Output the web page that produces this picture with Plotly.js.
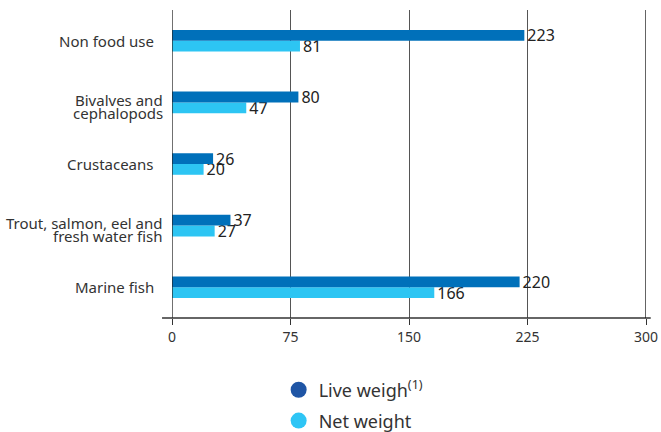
<!DOCTYPE html>
<html>
<head>
<meta charset="utf-8">
<script src="https://cdn.plot.ly/plotly-3.0.1.min.js"></script>
<style>html,body{margin:0;padding:0;background:#fff;}#chart{width:661px;height:432px;}</style>
</head>
<body>
<div id="chart"></div>
<script>
var categories = ["Marine fish", "Trout, salmon, eel and<br>fresh water fish", "Crustaceans", "Bivalves and<br>cephalopods", "Non food use"];
var liveWeight = [220, 37, 26, 80, 223];
var netWeight = [166, 27, 20, 47, 81];
var tickVals = [0, 75, 150, 225, 300];
var seriesNames = ["Live weigh<sup>(1)</sup>", "Net weight"];

var darkBar = "#0070BA", lightBar = "#2DC5F3";
var font = "Noto Sans, Lato, sans-serif";

var traces = [
  {type: "bar", orientation: "h", y: categories, x: netWeight, marker: {color: lightBar},
   text: netWeight.map(String), textposition: "outside", cliponaxis: false, constraintext: "none",
   textfont: {size: 16, color: "#222", family: font}, showlegend: false, hoverinfo: "x"},
  {type: "bar", orientation: "h", y: categories, x: liveWeight, marker: {color: darkBar},
   text: liveWeight.map(String), textposition: "outside", cliponaxis: false, constraintext: "none",
   textfont: {size: 16, color: "#222", family: font}, showlegend: false, hoverinfo: "x"},
  {type: "scatter", mode: "markers", x: [null], y: [null], name: seriesNames[0], legend: "legend",
   marker: {color: "#1F55A5", size: 16, symbol: "circle"}},
  {type: "scatter", mode: "markers", x: [null], y: [null], name: seriesNames[1], legend: "legend2",
   marker: {color: "#2EC5F5", size: 16, symbol: "circle"}}
];

// category labels as annotations (tight line spacing like the reference)
var annotations = [];
categories.forEach(function (c) {
  var lines = c.split("<br>");
  var n = lines.length;
  lines.forEach(function (ln, i) {
    annotations.push({
      xref: "paper", yref: "y", x: 0, y: c, xanchor: "right", yanchor: "middle",
      xshift: n > 1 ? -7 : -16, yshift: (n > 1 ? ((n - 1) / 2 - i) * 13 - 4 : 0),
      text: ln, showarrow: false, font: {size: 15, color: "#333", family: font}
    });
  });
});

var legendCommon = {orientation: "v", x: 0.225, xanchor: "left", yanchor: "middle",
  font: {size: 18, color: "#333", family: font}, bgcolor: "rgba(0,0,0,0)", borderwidth: 0};

var layout = {
  width: 661, height: 432,
  margin: {l: 172, r: 15, t: 10, b: 114, autoexpand: false},
  paper_bgcolor: "#fff", plot_bgcolor: "#fff",
  font: {family: font, color: "#333"},
  barmode: "group", bargap: 0.65, bargroupgap: 0,
  xaxis: {range: [0, 300], tickvals: tickVals, ticktext: tickVals.map(String),
    showgrid: true, gridcolor: "#555", gridwidth: 1, zeroline: false,
    ticks: "outside", ticklen: 6, tickcolor: "#333", tickfont: {size: 14, color: "#333"},
    showline: false, fixedrange: true, automargin: false},
  yaxis: {type: "category", showgrid: false, zeroline: false, ticks: "", showticklabels: false,
    fixedrange: true, automargin: false},
  showlegend: true,
  legend: Object.assign({}, legendCommon, {y: -0.234}),
  legend2: Object.assign({}, legendCommon, {y: -0.334}),
  annotations: annotations,
  shapes: [
    {type: "line", xref: "paper", yref: "paper", x0: -0.021, x1: 1.01, y0: 0, y1: 0,
     line: {color: "#333", width: 1.3}},
    {type: "line", xref: "x", yref: "paper", x0: 0, x1: 0, y0: 0, y1: 1, line: {color: "#222", width: 1.3}},
    {type: "line", xref: "x", yref: "paper", x0: 300, x1: 300, y0: 0, y1: 1, line: {color: "#111", width: 1.3}}
  ]
};

Plotly.newPlot("chart", traces, layout, {displayModeBar: false, staticPlot: true});
</script>
</body>
</html>
